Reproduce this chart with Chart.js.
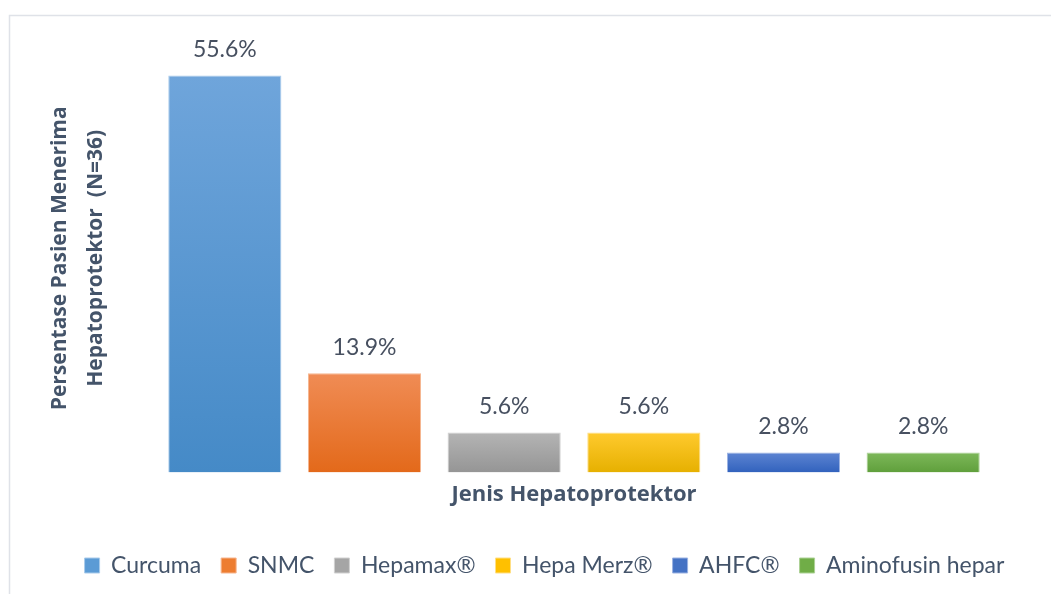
<!DOCTYPE html>
<html>
<head>
<meta charset="utf-8">
<script src="https://cdn.jsdelivr.net/npm/chart.js@4.4.1/dist/chart.umd.min.js"></script>
<style>
  html, body { margin: 0; padding: 0; background: #ffffff; }
  #wrap { position: relative; width: 1051px; height: 594px; }
</style>
</head>
<body>
<div id="wrap"><canvas id="c" width="1051" height="594"></canvas></div>
<script>
const categories = ['Curcuma', 'SNMC', 'Hepamax®', 'Hepa Merz®', 'AHFC®', 'Aminofusin hepar'];
const values = [55.6, 13.9, 5.6, 5.6, 2.8, 2.8];
const legendColors = ['#5b9bd5', '#ed7d31', '#a5a5a5', '#ffc000', '#4472c4', '#70ad47'];
const topColors = ['#6fa5db', '#f08c55', '#b4b4b4', '#ffca2e', '#5d84d2', '#7db85a'];
const bottomColors = ['#458ac7', '#e3691a', '#959595', '#e6b000', '#3162bd', '#5f9f3b'];
const borderColors = ['#a9cbeb', '#f6b690', '#d0d0d0', '#ffdf85', '#9bb2e2', '#acd296'];
const yTitle = ['Persentase Pasien Menerima', 'Hepatoprotektor  (N=36)'];
const xTitle = 'Jenis Hepatoprotektor';

const TEXT_DARK = '#44546a';

const framePlugin = {
  id: 'frame',
  beforeDraw(chart) {
    const c = chart.ctx;
    c.save();
    c.strokeStyle = '#dfe2e8';
    c.lineWidth = 1.5;
    c.strokeRect(9.5, 15.5, 1200, 800);
    c.restore();
  }
};

const legendShift = {
  id: 'legendShift',
  afterLayout(chart) {
    const l = chart.legend;
    if (l) { l.left += 42; l.right += 42; }
  }
};

const valueLabels = {
  id: 'valueLabels',
  afterDatasetsDraw(chart) {
    const c = chart.ctx;
    const meta = chart.getDatasetMeta(0);
    c.save();
    c.font = '23px Lato';
    c.fillStyle = '#475060';
    c.textAlign = 'center';
    c.textBaseline = 'middle';
    meta.data.forEach((bar, i) => {
      c.fillText(values[i].toFixed(1) + '%', bar.x, bar.y - 26);
    });
    c.restore();
  }
};

function barGradient(ctx) {
  const chart = ctx.chart;
  const i = ctx.dataIndex;
  if (!chart.chartArea || i === undefined) return legendColors[i] || legendColors[0];
  const ys = chart.scales.y;
  const top = ys.getPixelForValue(values[i]);
  const bottom = ys.getPixelForValue(0);
  const g = chart.ctx.createLinearGradient(0, top, 0, bottom);
  g.addColorStop(0, topColors[i]);
  g.addColorStop(1, bottomColors[i]);
  return g;
}

new Chart(document.getElementById('c'), {
  type: 'bar',
  data: {
    labels: categories,
    datasets: [{
      data: values,
      backgroundColor: barGradient,
      borderColor: borderColors,
      borderWidth: 1,
      barPercentage: 0.81,
      categoryPercentage: 1.0
    }]
  },
  options: {
    responsive: false,
    animation: false,
    layout: { padding: { left: 12, right: 58, top: 44, bottom: 7 } },
    plugins: {
      tooltip: { enabled: false },
      legend: {
        position: 'bottom',
        labels: {
          font: { family: 'Lato', size: 23 },
          color: TEXT_DARK,
          boxWidth: 15,
          boxHeight: 15,
          padding: 20,
          generateLabels() {
            return categories.map((name, i) => ({
              text: name,
              fillStyle: legendColors[i],
              strokeStyle: borderColors[i],
              lineWidth: 1,
              fontColor: TEXT_DARK,
              index: i,
              hidden: false
            }));
          }
        }
      }
    },
    scales: {
      x: {
        grid: { display: false, drawTicks: false },
        border: { display: false },
        ticks: { display: false },
        title: {
          display: true,
          text: xTitle,
          color: TEXT_DARK,
          font: { family: 'Open Sans', size: 22, weight: 'bold' },
          padding: { top: 9, bottom: 26 }
        }
      },
      y: {
        min: 0,
        max: 60,
        grid: { display: false, drawTicks: false },
        border: { display: false },
        ticks: { display: false },
        title: {
          display: true,
          text: yTitle,
          color: TEXT_DARK,
          font: { family: 'Open Sans', size: 21, weight: 'bold', lineHeight: 1.714 },
          padding: { top: 30, bottom: 41 }
        }
      }
    }
  },
  plugins: [framePlugin, legendShift, valueLabels]
});
</script>
</body>
</html>
